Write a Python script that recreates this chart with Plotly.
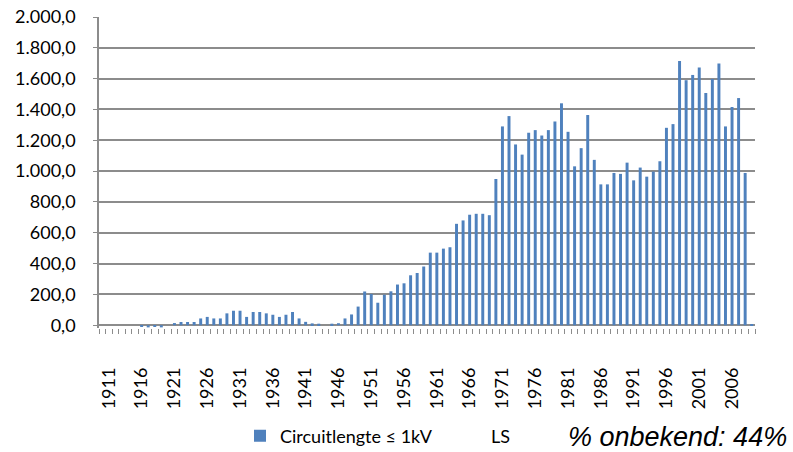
import plotly.graph_objects as go

# Circuit length (km) per year of installation, low voltage (<= 1 kV)
years = list(range(1910, 2010))
lengths = [
    0, 0, 0, 0, 0, 0, -10, -14, -10, -14,              # 1910-1919
    0, 14, 21, 21, 21, 44, 54, 44, 44, 77,             # 1920-1929
    94, 94, 54, 86, 86, 77, 68, 54, 68, 86,            # 1930-1939
    44, 22, 12, 10, 0, 10, 13, 44, 70, 121,            # 1940-1949
    219, 203, 146, 198, 220, 264, 272, 324, 339, 381,  # 1950-1959
    471, 471, 497, 506, 658, 680, 717, 723, 723, 714,  # 1960-1969
    949, 1290, 1357, 1173, 1107, 1249, 1266, 1231, 1266, 1322,    # 1970-1979
    1440, 1255, 1031, 1149, 1364, 1073, 914, 914, 988, 982,       # 1980-1989
    1055, 940, 1023, 964, 997, 1064, 1281, 1305, 1715, 1590,      # 1990-1999
    1624, 1672, 1507, 1598, 1698, 1290, 1416, 1474, 988, 8,       # 2000-2009
]

x_label_years = list(range(1911, 2010, 5))
y_ticks = [0, 200, 400, 600, 800, 1000, 1200, 1400, 1600, 1800, 2000]


def nl_number(v):
    s = f"{v:,.1f}"
    return s.replace(",", "X").replace(".", ",").replace("X", ".")


BLUE = "#4F81BD"
GRID = "#8C8C8C"
FONT = "Lato"
W, H = 793, 452
L, R, T, B = 99, 38, 17, 124
PW, PH = W - L - R, H - T - B

fig = go.Figure()
fig.add_trace(go.Bar(
    x=years,
    y=lengths,
    width=0.45,
    marker=dict(color=BLUE, line=dict(width=0)),
    name="Circuitlengte ≤ 1kV" + "\u00a0" * 13 + "LS",
    showlegend=True,
))

fig.update_layout(
    width=W,
    height=H,
    margin=dict(l=L, r=R, t=T, b=B, autoexpand=False),
    plot_bgcolor="white",
    paper_bgcolor="white",
    font=dict(family=FONT, size=18, color="#000000"),
    bargap=0.5,
    showlegend=True,
    legend=dict(
        orientation="h",
        xref="container", yref="container",
        x=240 / W, xanchor="left",
        y=(H - 436) / H, yanchor="middle",
        font=dict(family=FONT, size=18, color="#000000"),
        bgcolor="rgba(0,0,0,0)",
    ),
    xaxis=dict(
        range=[1909.5, 2009.5],
        tickmode="array",
        tickvals=x_label_years,
        ticktext=[str(y) for y in x_label_years],
        tickangle=-90,
        ticks="",
        ticklabelstandoff=35,
        showgrid=False,
        showline=False,
        zeroline=False,
        automargin=False,
        minor=dict(ticks="outside", tick0=1909.5, dtick=1, ticklen=5,
                   tickcolor=GRID, tickwidth=1, showgrid=False),
        tickfont=dict(family=FONT, size=18, color="#000000"),
    ),
    yaxis=dict(
        range=[-18, 2000],
        tickmode="array",
        tickvals=y_ticks,
        ticktext=[nl_number(v) for v in y_ticks],
        ticks="outside",
        ticklen=4,
        tickcolor=GRID,
        showgrid=True,
        gridcolor=GRID,
        gridwidth=1.5,
        showline=True,
        linecolor=GRID,
        linewidth=1.5,
        zeroline=True,
        zerolinecolor=GRID,
        zerolinewidth=1.5,
        automargin=False,
        ticklabelstandoff=14,
        tickfont=dict(family=FONT, size=18, color="#000000"),
    ),
    annotations=[
        dict(
            text="<i>% onbekend: 44%</i>",
            xref="paper", yref="paper",
            x=(566 - L) / PW, xanchor="left",
            y=(T + PH - 437) / PH, yanchor="middle",
            showarrow=False,
            font=dict(family="Liberation Sans", size=27, color="#000000"),
        ),
    ],
)

fig.write_html("out.html")
